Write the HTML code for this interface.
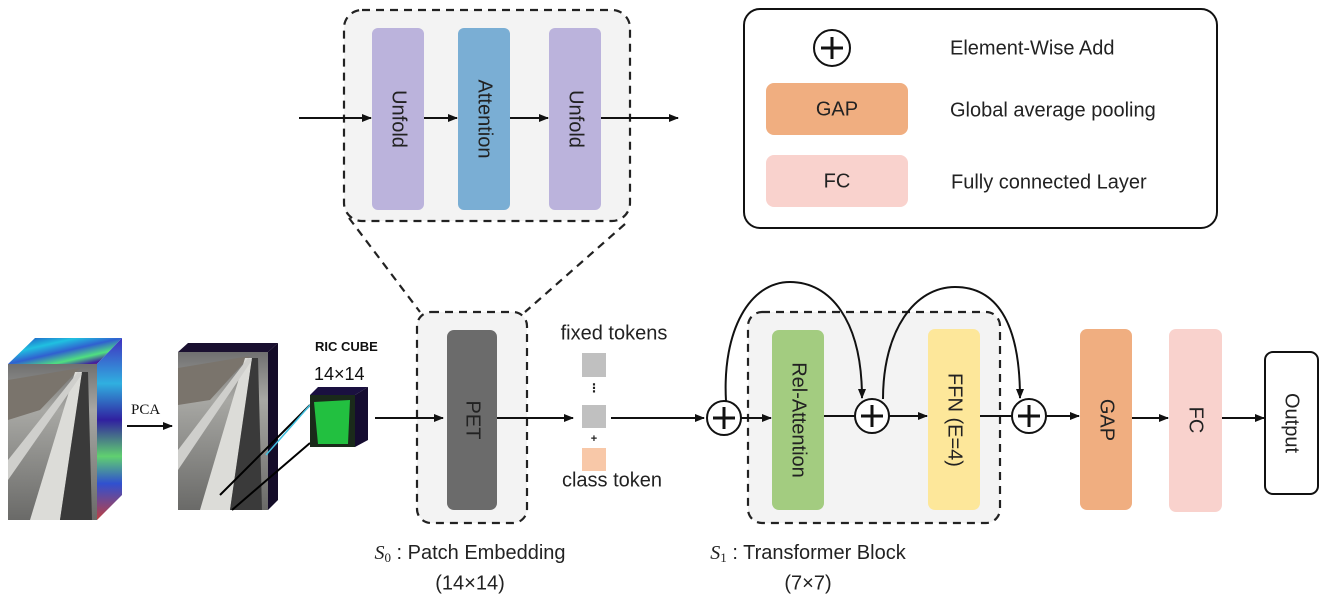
<!DOCTYPE html>
<html><head><meta charset="utf-8"><style>
html,body{margin:0;padding:0;background:#fff;}
svg{display:block;font-family:"Liberation Sans","DejaVu Sans",sans-serif;}
</style></head><body>
<svg width="1325" height="609" viewBox="0 0 1325 609" xmlns="http://www.w3.org/2000/svg">
<defs>
<marker id="ar" markerWidth="10" markerHeight="10" refX="9" refY="5" orient="auto" markerUnits="userSpaceOnUse"><path d="M0,1 L10,5 L0,9 z" fill="#111"/></marker>
<linearGradient id="hs" x1="0" y1="0" x2="1" y2="1"><stop offset="0" stop-color="#2040c0"/><stop offset="0.3" stop-color="#20c0e0"/><stop offset="0.5" stop-color="#3060d0"/><stop offset="0.7" stop-color="#50e080"/><stop offset="0.85" stop-color="#4020a0"/><stop offset="1" stop-color="#d03030"/></linearGradient>
<linearGradient id="hs2" x1="0" y1="0" x2="0" y2="1"><stop offset="0" stop-color="#4030c0"/><stop offset="0.25" stop-color="#30b0e0"/><stop offset="0.45" stop-color="#3020a0"/><stop offset="0.65" stop-color="#60d070"/><stop offset="0.8" stop-color="#3050d0"/><stop offset="1" stop-color="#c04040"/></linearGradient>
<linearGradient id="rail" x1="0" y1="0" x2="0" y2="1"><stop offset="0" stop-color="#707070"/><stop offset="0.3" stop-color="#a8a8a4"/><stop offset="1" stop-color="#6a6a68"/></linearGradient>
</defs>

<!-- Left hyperspectral cube -->
<polygon points="8,364 35,338 122,338 97,364" fill="url(#hs)"/>
<polygon points="97,364 122,338 122,495 97,520" fill="url(#hs2)"/>
<rect x="8" y="364" width="89" height="156" fill="url(#rail)"/>
<polygon points="8,380 80,368 40,410 8,420" fill="#7a746c"/>
<polygon points="30,520 75,372 82,372 60,520" fill="#dcdcd8"/>
<polygon points="60,520 82,372 88,372 92,520" fill="#3a3a3a"/>
<polygon points="8,460 78,372 82,374 8,480" fill="#cfcfcc"/>
<!-- Second cube -->
<polygon points="178,352 188,343 278,343 268,352" fill="#1a1030"/>
<polygon points="268,352 278,343 278,500 268,510" fill="#140c28"/>
<rect x="178" y="352" width="90" height="158" fill="url(#rail)"/>
<polygon points="178,368 250,356 210,400 178,405" fill="#7a746c"/>
<polygon points="200,510 245,358 252,358 230,510" fill="#dcdcd8"/>
<polygon points="230,510 252,358 258,358 262,510" fill="#3a3a3a"/>
<polygon points="178,450 248,358 252,360 178,470" fill="#cfcfcc"/>
<line x1="220" y1="495" x2="310" y2="405" stroke="#000" stroke-width="2"/>
<line x1="232" y1="510" x2="310" y2="443" stroke="#000" stroke-width="2"/>
<line x1="266" y1="455" x2="310" y2="405" stroke="#40c0e0" stroke-width="1.5"/>
<!-- RIC cube -->
<polygon points="310,395 318,387 368,387 355,395" fill="#1a1040"/>
<polygon points="355,395 368,387 368,440 355,447" fill="#150c30"/>
<rect x="310" y="395" width="45" height="52" fill="#1a2a1a"/>
<polygon points="314,402 350,400 348,444 318,444" fill="#22c040"/>
<text x="315" y="351" font-size="13" font-weight="bold" fill="#111">RIC CUBE</text>
<text x="314" y="380" font-size="18" fill="#111">14×14</text>
<!-- PCA -->
<text x="131" y="414" font-family="Liberation Serif,serif" font-size="15" fill="#111">PCA</text>
<line x1="127" y1="426" x2="172" y2="426" stroke="#111" stroke-width="2" marker-end="url(#ar)"/>

<!-- Top dashed zoom box -->
<rect x="344" y="10" width="286" height="211" rx="18" fill="#f3f3f3" stroke="#222" stroke-width="2.2" stroke-dasharray="8,6"/>
<rect x="372" y="28" width="52" height="182" rx="6" fill="#bbb3dc"/>
<rect x="458" y="28" width="52" height="182" rx="6" fill="#7aaed4"/>
<rect x="549" y="28" width="52" height="182" rx="6" fill="#bbb3dc"/>
<text transform="translate(398,119) rotate(90)" text-anchor="middle" dominant-baseline="middle" font-size="20" fill="#222">Unfold</text>
<text transform="translate(484,119) rotate(90)" text-anchor="middle" dominant-baseline="middle" font-size="20" fill="#222">Attention</text>
<text transform="translate(575,119) rotate(90)" text-anchor="middle" dominant-baseline="middle" font-size="20" fill="#222">Unfold</text>
<line x1="299" y1="118" x2="371" y2="118" stroke="#111" stroke-width="2" marker-end="url(#ar)"/>
<line x1="424" y1="118" x2="457" y2="118" stroke="#111" stroke-width="2" marker-end="url(#ar)"/>
<line x1="510" y1="118" x2="548" y2="118" stroke="#111" stroke-width="2" marker-end="url(#ar)"/>
<line x1="601" y1="118" x2="678" y2="118" stroke="#111" stroke-width="2" marker-end="url(#ar)"/>
<line x1="349" y1="218" x2="420" y2="312" stroke="#222" stroke-width="2.2" stroke-dasharray="8,6"/>
<line x1="625" y1="224" x2="525" y2="312" stroke="#222" stroke-width="2.2" stroke-dasharray="8,6"/>

<!-- Legend -->
<rect x="744" y="9" width="473" height="219" rx="16" fill="#fff" stroke="#111" stroke-width="2"/>
<circle cx="832" cy="48" r="18" fill="#fff" stroke="#111" stroke-width="2"/>
<path d="M832,37 V59 M821,48 H843" stroke="#111" stroke-width="3"/>
<rect x="766" y="83" width="142" height="52" rx="8" fill="#f0ae80"/>
<rect x="766" y="155" width="142" height="52" rx="8" fill="#f9d2cd"/>
<text x="837" y="110" text-anchor="middle" dominant-baseline="middle" font-size="20" fill="#222">GAP</text>
<text x="837" y="182" text-anchor="middle" dominant-baseline="middle" font-size="20" fill="#222">FC</text>
<text x="950" y="49" dominant-baseline="middle" font-size="20" fill="#222">Element-Wise Add</text>
<text x="950" y="111" dominant-baseline="middle" font-size="20" fill="#222">Global average pooling</text>
<text x="951" y="183" dominant-baseline="middle" font-size="20" fill="#222">Fully connected Layer</text>

<!-- PET block -->
<rect x="417" y="312" width="110" height="211" rx="14" fill="#f3f3f3" stroke="#222" stroke-width="2.2" stroke-dasharray="8,6"/>
<rect x="447" y="330" width="50" height="180" rx="7" fill="#6b6b6b"/>
<text transform="translate(472,420) rotate(90)" text-anchor="middle" dominant-baseline="middle" font-size="20" fill="#222">PET</text>
<line x1="375" y1="418" x2="443" y2="418" stroke="#111" stroke-width="2" marker-end="url(#ar)"/>
<line x1="497" y1="418" x2="573" y2="418" stroke="#111" stroke-width="2" marker-end="url(#ar)"/>
<text x="614" y="334" text-anchor="middle" dominant-baseline="middle" font-size="20" fill="#222">fixed tokens</text>
<rect x="582" y="353" width="24" height="24" fill="#c0c0c0"/>
<text x="594" y="392" text-anchor="middle" font-size="12" font-weight="bold" fill="#222">⋮</text>
<rect x="582" y="405" width="24" height="23" fill="#c0c0c0"/>
<text x="594" y="442" text-anchor="middle" font-size="11" font-weight="bold" fill="#222">+</text>
<rect x="582" y="448" width="24" height="23" fill="#f8c8a8"/>
<text x="612" y="481" text-anchor="middle" dominant-baseline="middle" font-size="20" fill="#222">class token</text>
<line x1="611" y1="418" x2="704" y2="418" stroke="#111" stroke-width="2" marker-end="url(#ar)"/>

<!-- Transformer block -->
<rect x="748" y="312" width="252" height="211" rx="14" fill="#f3f3f3" stroke="#222" stroke-width="2.2" stroke-dasharray="8,6"/>
<rect x="772" y="330" width="52" height="180" rx="7" fill="#a3cc80"/>
<text transform="translate(798,420) rotate(90)" text-anchor="middle" dominant-baseline="middle" font-size="20" fill="#222">Rel-Attention</text>
<rect x="928" y="329" width="52" height="181" rx="7" fill="#fde79a"/>
<text transform="translate(954,420) rotate(90)" text-anchor="middle" dominant-baseline="middle" font-size="20" fill="#222">FFN (E=4)</text>
<circle cx="724" cy="418" r="17" fill="#fff" stroke="#111" stroke-width="2"/>
<path d="M724,407 V429 M713,418 H735" stroke="#111" stroke-width="3"/>
<circle cx="872" cy="416" r="17" fill="#fff" stroke="#111" stroke-width="2"/>
<path d="M872,405 V427 M861,416 H883" stroke="#111" stroke-width="3"/>
<circle cx="1029" cy="416" r="17" fill="#fff" stroke="#111" stroke-width="2"/>
<path d="M1029,405 V427 M1018,416 H1040" stroke="#111" stroke-width="3"/>
<line x1="741" y1="418" x2="771" y2="418" stroke="#111" stroke-width="2" marker-end="url(#ar)"/>
<line x1="824" y1="416" x2="855" y2="416" stroke="#111" stroke-width="2"/>
<line x1="889" y1="416" x2="927" y2="416" stroke="#111" stroke-width="2" marker-end="url(#ar)"/>
<line x1="980" y1="416" x2="1012" y2="416" stroke="#111" stroke-width="2"/>
<line x1="1046" y1="416" x2="1079" y2="416" stroke="#111" stroke-width="2" marker-end="url(#ar)"/>
<path d="M726,401 C722,330 750,282 790,282 C830,282 862,320 862,398" fill="none" stroke="#111" stroke-width="2" marker-end="url(#ar)"/>
<path d="M883,399 C883,330 915,287 955,287 C995,287 1020,320 1020,398" fill="none" stroke="#111" stroke-width="2" marker-end="url(#ar)"/>

<!-- GAP FC Output -->
<rect x="1080" y="329" width="52" height="181" rx="7" fill="#f0ae80"/>
<text transform="translate(1106,420) rotate(90)" text-anchor="middle" dominant-baseline="middle" font-size="20" fill="#222">GAP</text>
<rect x="1169" y="329" width="53" height="183" rx="7" fill="#f9d2cd"/>
<text transform="translate(1195,420) rotate(90)" text-anchor="middle" dominant-baseline="middle" font-size="20" fill="#222">FC</text>
<line x1="1132" y1="418" x2="1168" y2="418" stroke="#111" stroke-width="2" marker-end="url(#ar)"/>
<line x1="1222" y1="418" x2="1264" y2="418" stroke="#111" stroke-width="2" marker-end="url(#ar)"/>
<rect x="1265" y="352" width="53" height="142" rx="8" fill="#fff" stroke="#111" stroke-width="2"/>
<text transform="translate(1291,423) rotate(90)" text-anchor="middle" dominant-baseline="middle" font-size="20" fill="#222">Output</text>

<!-- Captions -->
<text x="470" y="554" text-anchor="middle" dominant-baseline="middle" font-size="20" fill="#222"><tspan font-family="Liberation Serif,serif" font-style="italic">S</tspan><tspan font-family="Liberation Serif,serif" font-size="13" dy="5">0</tspan><tspan dy="-5"> : Patch Embedding</tspan></text>
<text x="470" y="584" text-anchor="middle" dominant-baseline="middle" font-size="20" fill="#222">(14×14)</text>
<text x="808" y="554" text-anchor="middle" dominant-baseline="middle" font-size="20" fill="#222"><tspan font-family="Liberation Serif,serif" font-style="italic">S</tspan><tspan font-family="Liberation Serif,serif" font-size="13" dy="5">1</tspan><tspan dy="-5"> : Transformer Block</tspan></text>
<text x="808" y="584" text-anchor="middle" dominant-baseline="middle" font-size="20" fill="#222">(7×7)</text>
</svg>
</body></html>
